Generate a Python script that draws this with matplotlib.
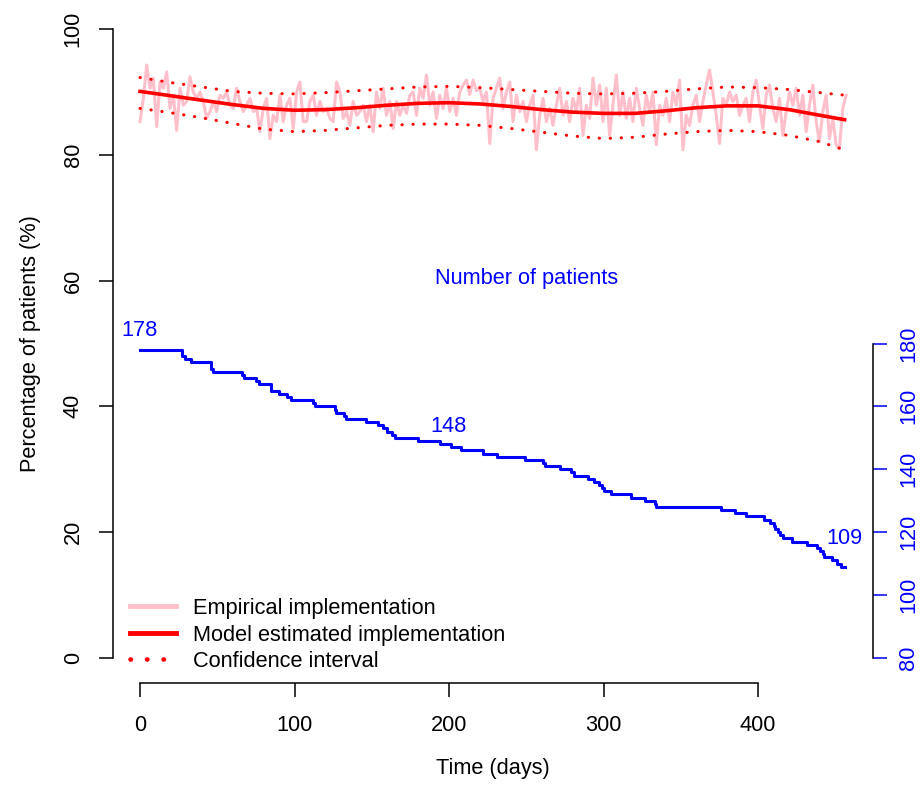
import numpy as np
import matplotlib
matplotlib.use("Agg")
import matplotlib.pyplot as plt

plt.rcParams["font.family"] = ["Liberation Sans", "DejaVu Sans"]
FS = 15.7

# empirical implementation (%), roughly every 2 days
empirical = [
    85.3, 89.0, 94.3, 90.6, 92.2, 84.5, 91.6, 90.6, 93.2, 87.4,
    89.5, 83.9, 90.6, 87.9, 88.5, 92.4, 90.0, 89.0, 90.0, 88.5,
    85.8, 86.9, 88.5, 86.9, 89.5, 89.0, 90.0, 87.9, 87.4, 90.6,
    88.5, 86.9, 87.9, 89.0, 86.9, 87.4, 83.7, 87.4, 89.0, 82.6,
    86.3, 85.3, 89.5, 85.3, 87.9, 89.0, 84.2, 90.0, 91.6, 85.3,
    85.3, 88.5, 89.5, 86.3, 88.5, 86.9, 87.4, 85.8, 85.3, 91.6,
    90.0, 85.8, 86.9, 84.7, 88.5, 86.3, 86.9, 87.9, 85.3,
    87.9, 83.7, 90.0, 87.4, 90.6, 86.3, 88.5, 84.2, 88.5, 86.3,
    87.9, 86.6, 89.5, 90.0, 86.3, 90.6, 89.0,
    92.7, 87.9, 90.0, 85.8, 89.5, 87.4, 90.6, 86.9, 89.0, 86.3,
    90.0, 91.1, 91.9, 89.6, 91.9, 90.2, 90.6, 88.5, 90.0, 81.8,
    89.0, 90.6, 92.2, 87.4, 90.0, 91.6, 85.3, 89.5, 86.9, 88.5,
    85.3, 87.9, 89.5, 80.8, 86.3, 89.0, 85.3, 87.4, 84.7, 87.9,
    90.6, 86.3, 88.5, 85.3, 89.0, 86.9, 90.6, 83.1, 87.9, 85.8,
    92.2, 87.9, 91.1, 85.3, 90.6, 83.1,
    87.9, 92.7, 86.3, 90.0, 85.8, 89.0, 85.3, 90.6, 87.4, 84.7,
    89.5, 86.9, 90.0, 81.6, 87.9, 86.3, 89.0, 85.3, 90.0, 87.9,
    91.9, 80.8, 86.3, 84.7, 87.9, 89.5, 85.3, 88.5, 91.1, 93.5,
    90.0, 86.3, 81.8, 89.0, 87.9, 90.0, 88.5, 89.5, 86.3, 87.9,
    89.0, 85.3, 90.0, 91.9, 87.9, 84.2, 89.5, 91.1, 87.4, 85.3,
    89.0, 83.1, 86.9, 90.0, 87.9, 90.6, 86.3, 89.5, 83.7, 87.9,
    91.1, 85.3, 82.1, 86.9, 89.5, 82.6, 85.8, 81.6, 81.0, 87.4,
    89.5,
]
emp_days = np.linspace(0, 457, len(empirical))

# model estimate and confidence interval
model_days = [0, 20, 40, 60, 80, 100, 120, 140, 160, 180, 200, 220,
              240, 260, 280, 300, 320, 340, 360, 380, 400, 420, 440, 456]
model = [90.1, 89.4, 88.7, 88.0, 87.4, 87.1, 87.2, 87.5, 87.9, 88.2, 88.3, 88.1,
         87.7, 87.2, 86.8, 86.6, 86.6, 87.0, 87.5, 87.8, 87.8, 87.2, 86.3, 85.6]
ci_upper = [92.3, 91.5, 90.8, 90.1, 89.8, 89.7, 89.9, 90.2, 90.5, 90.8, 90.9, 90.7,
            90.4, 90.1, 89.8, 89.7, 89.8, 90.1, 90.5, 90.8, 90.7, 90.4, 89.9, 89.5]
ci_lower = [87.4, 86.7, 85.9, 85.0, 84.1, 83.7, 83.9, 84.3, 84.7, 84.9, 84.9, 84.7,
            84.2, 83.6, 83.0, 82.6, 82.8, 83.3, 83.7, 83.9, 83.7, 83.1, 82.1, 80.8]

# number of patients (step function)
step_days = [0, 27, 29, 33, 46, 47, 66, 67, 75, 77, 85, 90, 95, 98, 112, 113, 126,
             127, 132, 133, 146, 154, 157, 160, 163, 165, 180, 194, 201, 208, 222,
             231, 249, 261, 262, 272, 279, 281, 290, 294, 297, 299, 300, 305, 318,
             327, 333, 334, 376, 385, 392, 404, 408, 410, 411, 413, 414, 416, 422,
             432, 438, 440, 442, 443, 448, 451, 454, 456]
step_n = [178, 176, 175, 174, 172, 171, 170, 169, 168, 167, 165, 164, 163, 162, 161,
          160, 159, 158, 157, 156, 155, 154, 153, 152, 151, 150, 149, 148, 147, 146,
          145, 144, 143, 142, 141, 140, 139, 138, 137, 136, 135, 134, 133, 132, 131,
          130, 129, 128, 127, 126, 125, 124, 123, 122, 121, 120, 119, 118, 117, 116,
          115, 114, 113, 112, 111, 110, 109, 109]
label_days = [0, 200, 456]
label_y = [184, 153.7, 118]
label_text = ["178", "148", "109"]

fig = plt.figure(figsize=(9.24, 7.9), dpi=100)
ax = fig.add_axes([113 / 924, 107 / 790, 760 / 924, 679 / 790])

ax.plot(emp_days, empirical, color="#FFC0CB", lw=2.2, zorder=2,
        label="Empirical implementation")
ax.plot(model_days, model, color="red", lw=2.6, zorder=4,
        label="Model estimated implementation")
ax.plot(model_days, ci_upper, color="red", lw=2.2, ls=(0, (0.1, 3.5)),
        dash_capstyle="round", zorder=3, label="Confidence interval")
ax.plot(model_days, ci_lower, color="red", lw=2.2, ls=(0, (0.1, 3.5)),
        dash_capstyle="round", zorder=3)

ax.set_xlim(-17.5, 474.4)
ax.set_ylim(-4, 104)
ax.set_xticks([0, 100, 200, 300, 400])
ax.set_yticks([0, 20, 40, 60, 80, 100])
ax.spines["top"].set_visible(False)
ax.spines["right"].set_visible(False)
ax.spines["left"].set_bounds(0, 100)
ax.spines["bottom"].set_bounds(0, 400)
for s in ["left", "bottom"]:
    ax.spines[s].set_linewidth(1.1)
ax.tick_params(length=10, width=1.1, pad=13, labelsize=FS)
ax.tick_params(axis="y", labelrotation=90, pad=11)
for t in ax.get_yticklabels():
    t.set_va("center")
ax.set_xlabel("Time (days)", fontsize=FS, labelpad=16)
ax.set_ylabel("Percentage of patients (%)", fontsize=FS, labelpad=16)

ax.text(250, 60.4, "Number of patients", color="blue", fontsize=FS,
        ha="center", va="center")

leg = ax.legend(loc="lower left", bbox_to_anchor=(130 / 924, (790 - 672) / 790),
                bbox_transform=fig.transFigure, frameon=False, fontsize=FS,
                handlelength=2.1, handletextpad=0.8, borderpad=0, borderaxespad=0,
                labelspacing=0.25)
for h in leg.get_lines()[:2]:
    h.set_linewidth(3.5)
leg.get_lines()[2].set_linewidth(3.3)

ax2 = ax.twinx()
ax2.set_position(ax.get_position())
ax2.step(step_days, step_n, where="post", color="blue", lw=2.2)
for d, y, s in zip(label_days, label_y, label_text):
    ax2.text(d, y, s, color="blue", fontsize=FS, ha="center", va="center")
ax2.set_ylim(72, 288)
ax2.set_yticks([80, 100, 120, 140, 160, 180])
for s in ["top", "left", "bottom"]:
    ax2.spines[s].set_visible(False)
ax2.spines["right"].set_bounds(80, 180)
ax2.spines["right"].set_linewidth(1.1)
ax2.tick_params(axis="y", length=10, width=1.1, pad=8, labelsize=FS,
                colors="blue", labelrotation=90)
for t in ax2.get_yticklabels():
    t.set_va("center")

fig.savefig("out.png", dpi=100)
